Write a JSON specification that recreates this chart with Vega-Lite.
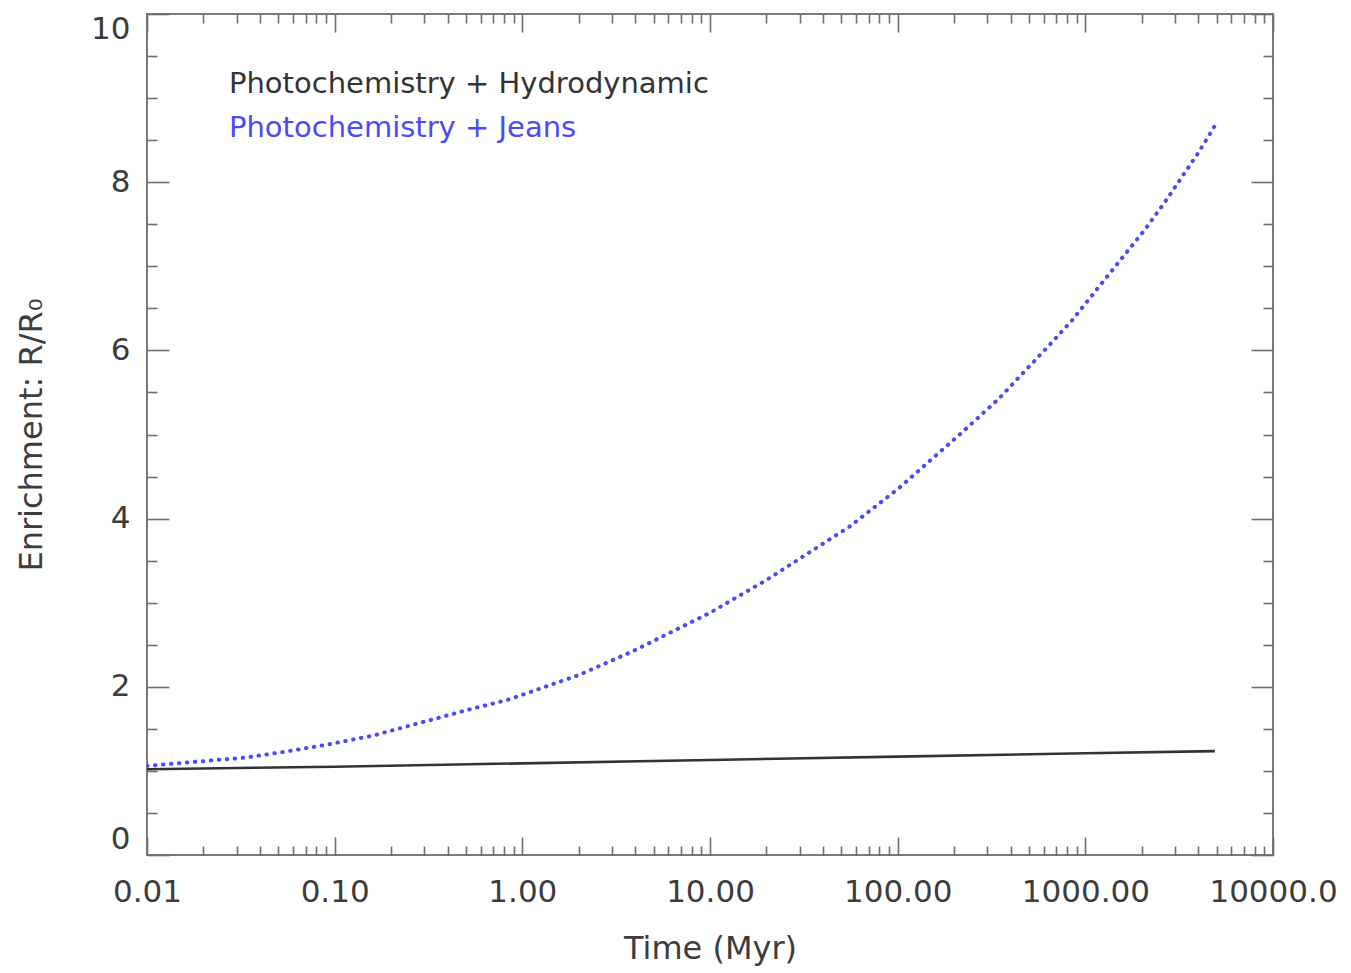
{
  "$schema": "https://vega.github.io/schema/vega-lite/v6.json",
  "width": 1126,
  "height": 841,
  "autosize": "none",
  "padding": {"left": 147, "top": 14, "right": 78, "bottom": 118},
  "background": "white",
  "config": {
    "view": {"stroke": "#7a7a7a", "strokeWidth": 2},
    "axis": {
      "domain": false,
      "grid": false,
      "tickColor": "#6e6e6e",
      "tickWidth": 1.6,
      "labelFont": "DejaVu Sans",
      "labelFontSize": 31,
      "labelColor": "#3c3c3c",
      "titleFont": "DejaVu Sans",
      "titleFontSize": 32,
      "titleFontWeight": "normal",
      "titleColor": "#3c3c3c"
    }
  },
  "data": {
    "values": [
      {"series": "Photochemistry + Hydrodynamic", "t": 0.01, "y": 1.02},
      {"series": "Photochemistry + Hydrodynamic", "t": 0.1, "y": 1.05},
      {"series": "Photochemistry + Hydrodynamic", "t": 1, "y": 1.09},
      {"series": "Photochemistry + Hydrodynamic", "t": 10, "y": 1.13},
      {"series": "Photochemistry + Hydrodynamic", "t": 100, "y": 1.17},
      {"series": "Photochemistry + Hydrodynamic", "t": 1000, "y": 1.21},
      {"series": "Photochemistry + Hydrodynamic", "t": 4900, "y": 1.235},
      {"series": "Photochemistry + Jeans", "t": 0.01, "y": 1.06},
      {"series": "Photochemistry + Jeans", "t": 0.021, "y": 1.12},
      {"series": "Photochemistry + Jeans", "t": 0.034, "y": 1.16},
      {"series": "Photochemistry + Jeans", "t": 0.055, "y": 1.23},
      {"series": "Photochemistry + Jeans", "t": 0.09, "y": 1.31},
      {"series": "Photochemistry + Jeans", "t": 0.16, "y": 1.42},
      {"series": "Photochemistry + Jeans", "t": 0.33, "y": 1.61},
      {"series": "Photochemistry + Jeans", "t": 0.5, "y": 1.72},
      {"series": "Photochemistry + Jeans", "t": 0.85, "y": 1.85},
      {"series": "Photochemistry + Jeans", "t": 2, "y": 2.14},
      {"series": "Photochemistry + Jeans", "t": 3.85, "y": 2.42},
      {"series": "Photochemistry + Jeans", "t": 10, "y": 2.88},
      {"series": "Photochemistry + Jeans", "t": 20, "y": 3.27},
      {"series": "Photochemistry + Jeans", "t": 55, "y": 3.9},
      {"series": "Photochemistry + Jeans", "t": 100, "y": 4.35},
      {"series": "Photochemistry + Jeans", "t": 219, "y": 5.02},
      {"series": "Photochemistry + Jeans", "t": 344, "y": 5.42},
      {"series": "Photochemistry + Jeans", "t": 635, "y": 6.05},
      {"series": "Photochemistry + Jeans", "t": 844, "y": 6.35},
      {"series": "Photochemistry + Jeans", "t": 1445, "y": 7.0},
      {"series": "Photochemistry + Jeans", "t": 2083, "y": 7.44},
      {"series": "Photochemistry + Jeans", "t": 2667, "y": 7.77},
      {"series": "Photochemistry + Jeans", "t": 4000, "y": 8.35},
      {"series": "Photochemistry + Jeans", "t": 4900, "y": 8.67}
    ]
  },
  "resolve": {"axis": {"x": "independent", "y": "independent"}},
  "layer": [
    {
      "transform": [{"filter": "datum.series == 'Photochemistry + Hydrodynamic'"}],
      "mark": {"type": "line", "strokeWidth": 2.6, "clip": true},
      "encoding": {
        "x": {
          "field": "t", "type": "quantitative",
          "scale": {"type": "log", "domain": [0.01, 10000], "nice": false},
          "axis": {
            "orient": "bottom",
            "values": [0.01, 0.1, 1, 10, 100, 1000, 10000],
            "tickSize": -18,
            "labelPadding": 40,
            "labelFlush": false,
            "labelOverlap": false,
            "labelExpr": "datum.value >= 10000 ? '10000.0' : format(datum.value, '.2f')",
            "title": "Time (Myr)",
            "titlePadding": 26
          }
        },
        "y": {
          "field": "y", "type": "quantitative",
          "scale": {"domain": [0, 10], "nice": false, "zero": true},
          "axis": {
            "orient": "left",
            "values": [0, 2, 4, 6, 8, 10],
            "tickSize": -22,
            "labelPadding": 39,
            "labelFlush": true,
            "labelOverlap": false,
            "title": "Enrichment: R/R₀",
            "titlePadding": 42
          }
        },
        "color": {
          "field": "series", "type": "nominal",
          "scale": {"domain": ["Photochemistry + Hydrodynamic", "Photochemistry + Jeans"], "range": ["#333333", "#4a4af6"]},
          "legend": {
            "orient": "none",
            "legendX": 53,
            "legendY": 55,
            "title": null,
            "symbolSize": 0,
            "symbolOpacity": 0,
            "symbolStrokeWidth": 0,
            "labelOffset": 0,
            "labelFont": "DejaVu Sans",
            "labelFontSize": 29,
            "labelLimit": 1000,
            "rowPadding": 14,
            "encode": {
              "labels": {
                "update": {
                  "fill": {"signal": "datum.value == 'Photochemistry + Jeans' ? '#4b4bf5' : '#333333'"}
                }
              }
            }
          }
        }
      }
    },
    {
      "transform": [{"filter": "datum.series == 'Photochemistry + Jeans'"}],
      "mark": {"type": "line", "strokeWidth": 4, "strokeDash": [0.5, 7.5], "strokeCap": "round", "clip": true},
      "encoding": {
        "x": {
          "field": "t", "type": "quantitative",
          "axis": {
            "orient": "bottom",
            "values": [0.02, 0.03, 0.04, 0.05, 0.06, 0.07, 0.08, 0.09, 0.2, 0.3, 0.4, 0.5, 0.6, 0.7, 0.8, 0.9, 2, 3, 4, 5, 6, 7, 8, 9, 20, 30, 40, 50, 60, 70, 80, 90, 200, 300, 400, 500, 600, 700, 800, 900, 2000, 3000, 4000, 5000, 6000, 7000, 8000, 9000],
            "tickSize": -9,
            "labels": false,
            "title": null
          }
        },
        "y": {
          "field": "y", "type": "quantitative",
          "axis": {
            "orient": "left",
            "values": [0.5, 1, 1.5, 2.5, 3, 3.5, 4.5, 5, 5.5, 6.5, 7, 7.5, 8.5, 9, 9.5],
            "tickSize": -10,
            "labels": false,
            "title": null
          }
        },
        "color": {"field": "series", "type": "nominal"}
      }
    },
    {
      "mark": {"type": "line", "opacity": 0},
      "encoding": {
        "x": {
          "field": "t", "type": "quantitative",
          "axis": {
            "orient": "top",
            "values": [0.01, 0.1, 1, 10, 100, 1000, 10000],
            "tickSize": -18,
            "labels": false,
            "title": null
          }
        },
        "y": {
          "field": "y", "type": "quantitative",
          "axis": {
            "orient": "right",
            "values": [0, 2, 4, 6, 8, 10],
            "tickSize": -22,
            "labels": false,
            "title": null
          }
        },
        "detail": {"field": "series", "type": "nominal"}
      }
    },
    {
      "mark": {"type": "line", "opacity": 0},
      "encoding": {
        "x": {
          "field": "t", "type": "quantitative",
          "axis": {
            "orient": "top",
            "values": [0.02, 0.03, 0.04, 0.05, 0.06, 0.07, 0.08, 0.09, 0.2, 0.3, 0.4, 0.5, 0.6, 0.7, 0.8, 0.9, 2, 3, 4, 5, 6, 7, 8, 9, 20, 30, 40, 50, 60, 70, 80, 90, 200, 300, 400, 500, 600, 700, 800, 900, 2000, 3000, 4000, 5000, 6000, 7000, 8000, 9000],
            "tickSize": -9,
            "labels": false,
            "title": null
          }
        },
        "y": {
          "field": "y", "type": "quantitative",
          "axis": {
            "orient": "right",
            "values": [0.5, 1, 1.5, 2.5, 3, 3.5, 4.5, 5, 5.5, 6.5, 7, 7.5, 8.5, 9, 9.5],
            "tickSize": -10,
            "labels": false,
            "title": null
          }
        },
        "detail": {"field": "series", "type": "nominal"}
      }
    }
  ]
}
